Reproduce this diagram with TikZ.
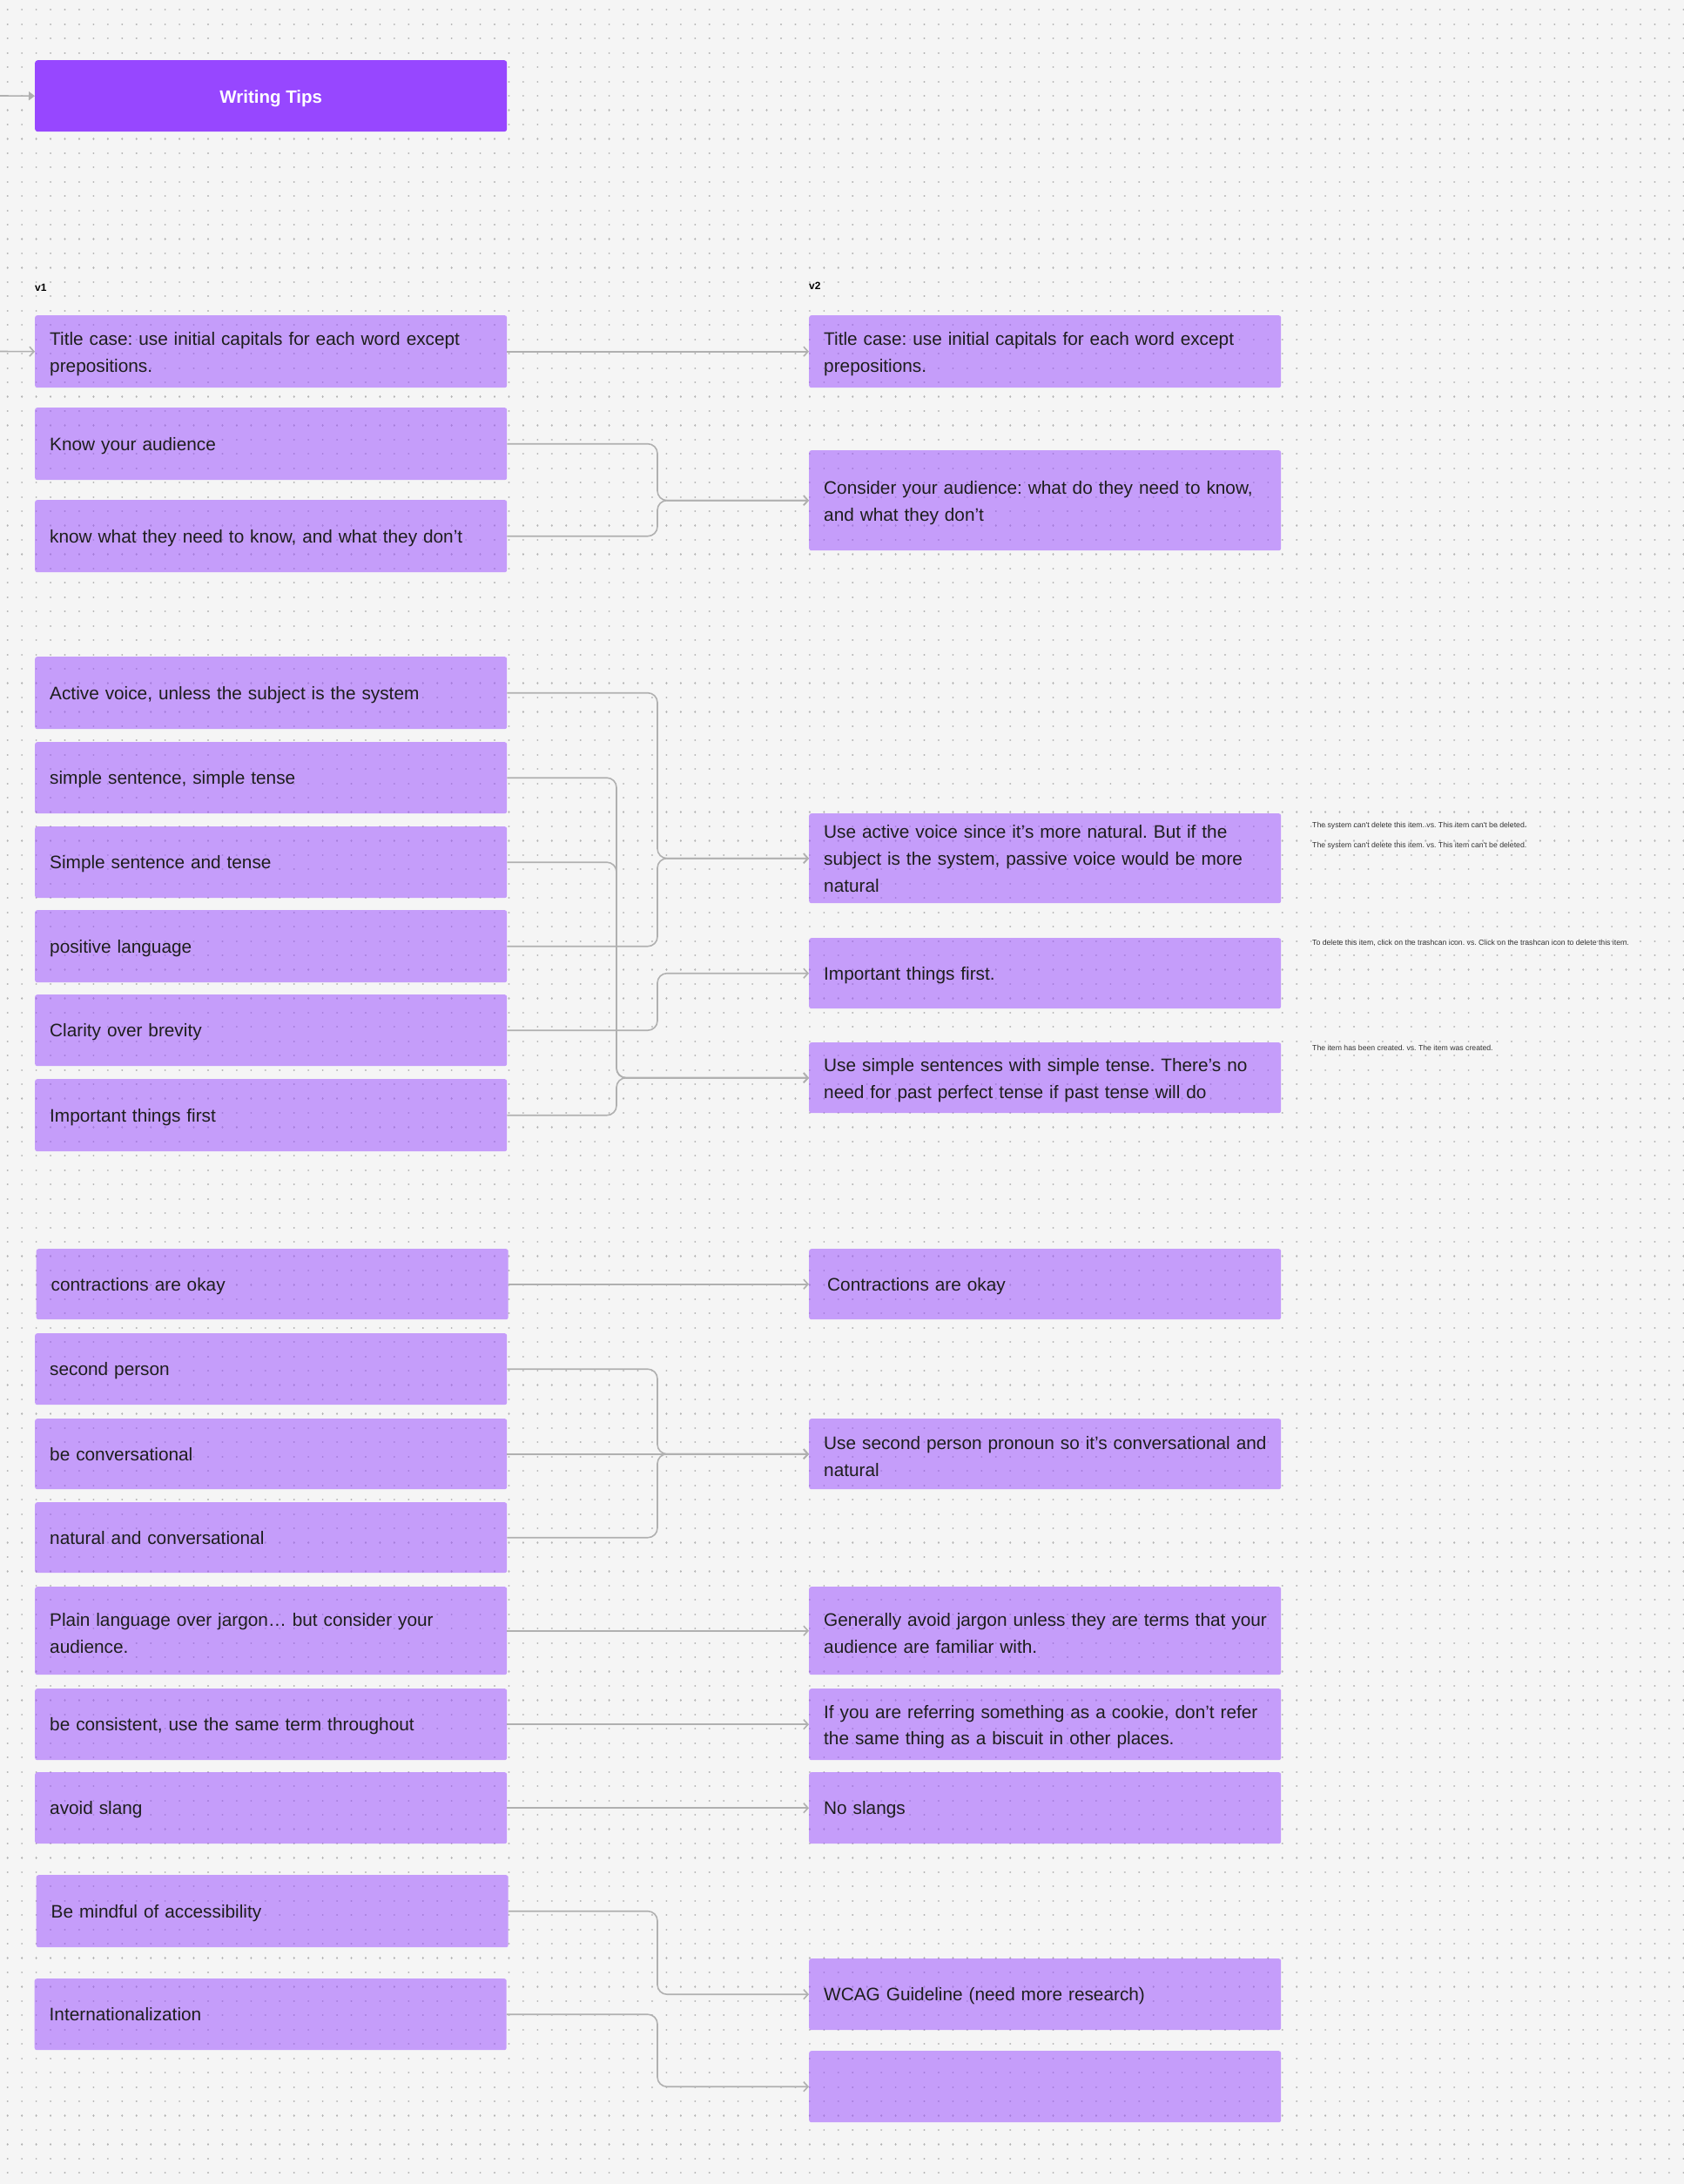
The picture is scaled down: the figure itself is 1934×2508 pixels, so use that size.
\documentclass[tikz,border=0pt]{standalone}
\usepackage{fontspec}
\setmainfont{Liberation Sans}
\usetikzlibrary{arrows.meta}
\definecolor{bg}{HTML}{F5F5F5}
\definecolor{dotc}{HTML}{B4B4B4}
\definecolor{figpurple}{HTML}{9747FF}
\definecolor{txt}{HTML}{1E1E1E}
\definecolor{conncol}{HTML}{B0B0B0}
\definecolor{notecol}{HTML}{333333}
\frenchspacing
\begin{document}
\begin{tikzpicture}[x=1pt,y=-1pt,
  boxbase/.style={draw=none, fill=figpurple, fill opacity=0.5, text opacity=1, text=txt,
    rounded corners=2.5pt, anchor=north west, minimum width=542pt, text width=508pt,
    inner xsep=17pt, inner ysep=0pt, align=left},
  lbox/.style={boxbase, font=\fontsize{20.8}{30.5}\selectfont,
    execute at end node={\endgraf\kern-6pt}},
  lboxthree/.style={boxbase, font=\fontsize{20.8}{31}\selectfont},
  hdr/.style={draw=none, fill=figpurple, text=white, rounded corners=3pt, anchor=north west,
    minimum width=542pt, minimum height=82pt, text height=17pt, text depth=0pt,
    font=\fontsize{20.5}{24}\selectfont\bfseries},
  conn/.style={draw=conncol, line width=1.6pt, rounded corners=11pt,
    -{Straight Barb[length=5pt,width=11pt]}},
  note/.style={anchor=west, inner sep=0pt, text=notecol, font=\fontsize{8.7}{10}\selectfont},
  vlabel/.style={anchor=west, inner sep=0pt, text=black, font=\fontsize{12}{14}\selectfont\bfseries},
  dotrow/.style={draw=dotc, line width=2.2pt, line cap=round, dash pattern=on 0.01pt off 16.44pt}
]
\useasboundingbox (0,0) rectangle (1934,2508);
\fill[bg] (0,0) rectangle (1934,2508);
\foreach \k in {0,...,151} {
  \draw[dotrow] (8.7,{11.35+16.45*\k}) -- (1934,{11.35+16.45*\k});
}

% header
\node[hdr] (Hdr) at (40,69) {Writing Tips};
\coordinate (HdrIn) at (0,110);
\draw[draw=conncol, line width=1.6pt, -{Triangle[length=7pt,width=10pt]}] (HdrIn) -- (Hdr.west);

% labels
\node[vlabel] (v1) at (40,330) {v1};
\node[vlabel] (v2) at (929,328) {v2};

% left column
\node[lbox, minimum height=83pt] (TitleL) at (40,362) {\mbox{Title case: use initial capitals for each word except}\\\mbox{prepositions.}};
\node[lbox, minimum height=83pt] (KnowL) at (40,468) {\mbox{Know your audience}};
\node[lbox, minimum height=83pt] (KnowWhatL) at (40,574) {\mbox{know what they need to know, and what they don’t}};

\node[lbox, minimum height=83pt] (ActiveL) at (40,754) {\mbox{Active voice, unless the subject is the system}};
\node[lbox, minimum height=82pt] (SimpleSL) at (40,852) {\mbox{simple sentence, simple tense}};
\node[lbox, minimum height=82pt] (SimpleSTL) at (40,949) {\mbox{Simple sentence and tense}};
\node[lbox, minimum height=83pt] (PositiveL) at (40,1045) {\mbox{positive language}};
\node[lbox, minimum height=82pt] (ClarityL) at (40,1142) {\mbox{Clarity over brevity}};
\node[lbox, minimum height=83pt] (ImportantL) at (40,1239) {\mbox{Important things first}};

\node[lbox, minimum height=81pt] (ContrL) at (41.5,1434) {\mbox{contractions are okay}};
\node[lbox, minimum height=82pt] (SecondL) at (40,1531) {\mbox{second person}};
\node[lbox, minimum height=81pt] (ConvL) at (40,1629) {\mbox{be conversational}};
\node[lbox, minimum height=81pt] (NaturalL) at (40,1725) {\mbox{natural and conversational}};
\node[lbox, minimum height=101pt] (PlainL) at (40,1822) {\mbox{Plain language over jargon… but consider your}\\\mbox{audience.}};
\node[lbox, minimum height=82pt] (ConsistL) at (40,1939) {\mbox{be consistent, use the same term throughout}};
\node[lbox, minimum height=82pt] (SlangL) at (40,2035) {\mbox{avoid slang}};
\node[lbox, minimum height=83pt] (MindfulL) at (41.5,2153) {\mbox{Be mindful of accessibility}};
\node[lbox, minimum height=82pt] (InterL) at (39.5,2272) {\mbox{Internationalization}};

% right column
\node[lbox, minimum height=83pt] (R1) at (929,362) {\mbox{Title case: use initial capitals for each word except}\\\mbox{prepositions.}};
\node[lbox, minimum height=115pt] (R2) at (929,517) {\mbox{Consider your audience: what do they need to know,}\\\mbox{and what they don’t}};
\node[lboxthree, minimum height=103pt] (R3) at (929,934) {\mbox{Use active voice since it’s more natural. But if the}\\\mbox{subject is the system, passive voice would be more}\\\mbox{natural}};
\node[lbox, minimum height=81pt] (R4) at (929,1077) {\mbox{Important things first.}};
\node[lbox, minimum height=81pt] (R5) at (929,1197) {\mbox{Use simple sentences with simple tense. There’s no}\\\mbox{need for past perfect tense if past tense will do}};
\node[lbox, minimum height=81pt, inner xsep=21pt, text width=500pt] (R6) at (929,1434) {\mbox{Contractions are okay}};
\node[lbox, minimum height=81pt] (R7) at (929,1629) {\mbox{Use second person pronoun so it’s conversational and}\\\mbox{natural}};
\node[lbox, minimum height=101pt] (R8) at (929,1822) {\mbox{Generally avoid jargon unless they are terms that your}\\\mbox{audience are familiar with.}};
\node[lbox, minimum height=82pt] (R9) at (929,1939) {\mbox{If you are referring something as a cookie, don’t refer}\\\mbox{the same thing as a biscuit in other places.}};
\node[lbox, minimum height=82pt] (R10) at (929,2035) {\mbox{No slangs}};
\node[lbox, minimum height=82pt] (R11) at (929,2249) {\mbox{WCAG Guideline (need more research)}};
\node[lbox, minimum height=82pt] (R12) at (929,2355) {};

% notes
\node[note] (n1) at (1507,948) {The system can\textquotesingle t delete this item. vs. This item can\textquotesingle t be deleted.};
\node[note] (n2) at (1507,971.5) {The system can\textquotesingle t delete this item. vs. This item can\textquotesingle t be deleted.};
\node[note] (n3) at (1507,1082.5) {To delete this item, click on the trashcan icon. vs. Click on the trashcan icon to delete this item.};
\node[note] (n4) at (1507,1203.5) {The item has been created. vs. The item was created.};

% junction columns
\coordinate (jA) at (755,0);
\coordinate (jB) at (708,0);
\coordinate (TIn) at (0,403.5);

% connectors
\draw[conn] (TIn) -- (TitleL.west);
\draw[conn] (TitleL.east) -- (R1.west);
\draw[conn] (KnowL.east) -- (KnowL.east -| jA) -- (R2.west -| jA) -- (R2.west);
\draw[conn] (KnowWhatL.east) -- (KnowWhatL.east -| jA) -- (R2.west -| jA) -- (R2.west);

\draw[conn] (ActiveL.east) -- (ActiveL.east -| jA) -- (R3.west -| jA) -- (R3.west);
\draw[conn] (PositiveL.east) -- (PositiveL.east -| jA) -- (R3.west -| jA) -- (R3.west);
\draw[conn] (ClarityL.east) -- (ClarityL.east -| jA) -- (R4.west -| jA) -- (R4.west);
\draw[conn] (SimpleSL.east) -- (SimpleSL.east -| jB) -- (R5.west -| jB) -- (R5.west);
\draw[conn] (SimpleSTL.east) -- (SimpleSTL.east -| jB) -- (R5.west -| jB) -- (R5.west);
\draw[conn] (ImportantL.east) -- (ImportantL.east -| jB) -- (R5.west -| jB) -- (R5.west);

\draw[conn] (ContrL.east) -- (R6.west);
\draw[conn] (SecondL.east) -- (SecondL.east -| jA) -- (R7.west -| jA) -- (R7.west);
\draw[conn] (ConvL.east) -- (R7.west);
\draw[conn] (NaturalL.east) -- (NaturalL.east -| jA) -- (R7.west -| jA) -- (R7.west);
\draw[conn] (PlainL.east) -- (R8.west);
\draw[conn] (ConsistL.east) -- (R9.west);
\draw[conn] (SlangL.east) -- (R10.west);
\draw[conn] (MindfulL.east) -- (MindfulL.east -| jA) -- (R11.west -| jA) -- (R11.west);
\draw[conn] (InterL.east) -- (InterL.east -| jA) -- (R12.west -| jA) -- (R12.west);
\end{tikzpicture}
\end{document}
